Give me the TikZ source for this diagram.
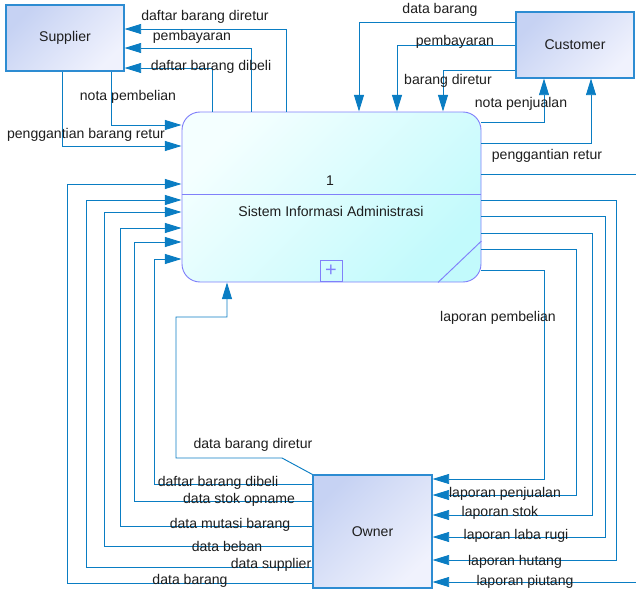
\documentclass[tikz,border=0pt]{standalone}
\usepackage{fontspec}
\setmainfont{Liberation Sans}
\usetikzlibrary{arrows.meta}

\definecolor{flowblue}{RGB}{10,125,195}
\definecolor{entline}{RGB}{45,140,210}
\definecolor{enttop}{RGB}{198,210,243}
\definecolor{entbot}{RGB}{240,242,253}
\definecolor{procline}{RGB}{128,128,250}
\definecolor{proctop}{RGB}{244,255,255}
\definecolor{procbot}{RGB}{194,250,252}
\definecolor{txt}{RGB}{30,30,30}

\begin{document}
\begin{tikzpicture}[x=0.3mm,y=-0.3mm,
  every node/.style={font=\fontsize{12}{14}\selectfont,text=txt},
  entbox/.style={draw=entline,line width=0.9pt,top color=enttop,bottom color=entbot,shading angle=45,inner sep=0pt,minimum width=35.4mm,minimum height=19.8mm},
  procbox/.style={draw=procline,line width=0.8pt,rounded corners=5.4mm,top color=proctop,bottom color=procbot,shading angle=45,inner sep=0pt,minimum width=89.7mm,minimum height=51mm},
  dfline/.style={draw=flowblue,line width=0.8pt,-{Triangle[length=5mm,width=3mm]}}]

  \useasboundingbox (0,0) rectangle (636,592);
  \clip (0,0) rectangle (636,592);

  % Entities and the process (position, size)
  \node[entbox] (supplier) at (65,38) {Supplier};
  \node[entbox] (customer) at (575,45) {Customer};
  \node[entbox,minimum width=35.7mm,minimum height=33.9mm] (owner) at (372.5,531.5) {Owner};
  \node[procbox] (proses) at (331.5,197) {};

  \draw[procline,line width=0.8pt] (proses.west |- 0,194) -- (proses.east |- 0,194);
  \draw[procline,line width=0.8pt] (proses.east |- 0,241) -- (438,0 |- proses.south);
  \node (pnum) at (330,181) {1};
  \node (pname) at (331,211) {Sistem Informasi Administrasi};
  \node[draw=procline,line width=0.6pt,minimum width=6.6mm,minimum height=6.3mm,inner sep=0pt,text=procline,font=\fontsize{17}{17}\selectfont] (pplus) at (331,270.5) {+};

  % Supplier flows
  \draw[dfline] (286,0 |- proses.north) |- (supplier.east |- 0,29);
  \draw[dfline] (251,0 |- proses.north) |- (supplier.east |- 0,48);
  \draw[dfline] (212,0 |- proses.north) |- (supplier.east |- 0,68);
  \draw[dfline] (111,0 |- supplier.south) |- (proses.west |- 0,125);
  \draw[dfline] (62,0 |- supplier.south) |- (proses.west |- 0,146);

  % Customer flows
  \draw[dfline] (customer.west |- 0,22) -| (359,0 |- proses.north);
  \draw[dfline] (customer.west |- 0,45) -| (397,0 |- proses.north);
  \draw[dfline] (customer.west |- 0,70) -| (443,0 |- proses.north);
  \draw[dfline] (proses.east |- 0,122) -| (544,0 |- customer.south);
  \draw[dfline] (proses.east |- 0,143) -| (591,0 |- customer.south);

  % Reports to the owner
  \draw[dfline] (proses.east |- 0,174) -- (650,174) |- (owner.east |- 0,582);
  \draw[dfline] (proses.east |- 0,200) -- (616,200) |- (owner.east |- 0,560);
  \draw[dfline] (proses.east |- 0,216) -- (605,216) |- (owner.east |- 0,537);
  \draw[dfline] (proses.east |- 0,233) -- (592,233) |- (owner.east |- 0,515);
  \draw[dfline] (proses.east |- 0,249) -- (576,249) |- (owner.east |- 0,495);
  \draw[dfline] (proses.east |- 0,270) -- (544,270) |- (owner.east |- 0,479);

  % Data from the owner
  \draw[dfline] (owner.west |- 0,583) -| (67,184) -- (proses.west |- 0,184);
  \draw[dfline] (owner.west |- 0,567) -| (86,200) -- (proses.west |- 0,200);
  \draw[dfline] (owner.west |- 0,546) -| (104,212) -- (proses.west |- 0,212);
  \draw[dfline] (owner.west |- 0,526) -| (120,228) -- (proses.west |- 0,228);
  \draw[dfline] (owner.west |- 0,501) -| (134,242) -- (proses.west |- 0,242);
  \draw[dfline] (owner.west |- 0,484) -| (154,259) -- (proses.west |- 0,259);
  \draw[dfline] (owner.north west) -- (282,458) -| (176,317) -| (227,0 |- proses.south);

  % Labels
  \node (l1) at (205,17) {daftar barang diretur};
  \node (l2) at (192,37) {pembayaran};
  \node (l3) at (211,67) {daftar barang dibeli};
  \node (l4) at (128,97) {nota pembelian};
  \node (l5) at (86,135) {penggantian barang retur};
  \node (l6) at (440,10) {data barang};
  \node (l7) at (455,42) {pembayaran};
  \node (l8) at (448,81) {barang diretur};
  \node (l9) at (521,104) {nota penjualan};
  \node (l10) at (547,156) {penggantian retur};
  \node (l11) at (498,318) {laporan pembelian};
  \node (l12) at (505,494) {laporan penjualan};
  \node (l13) at (500,513) {laporan stok};
  \node (l14) at (516,536) {laporan laba rugi};
  \node (l15) at (515,562) {laporan hutang};
  \node (l16) at (525,582) {laporan piutang};
  \node (l17) at (253,445) {data barang diretur};
  \node (l18) at (218,483) {daftar barang dibeli};
  \node (l19) at (239,500) {data stok opname};
  \node (l20) at (230,525) {data mutasi barang};
  \node (l21) at (227,546) {data beban};
  \node (l22) at (271,565) {data supplier};
  \node (l23) at (190,581) {data barang};

\end{tikzpicture}
\end{document}
